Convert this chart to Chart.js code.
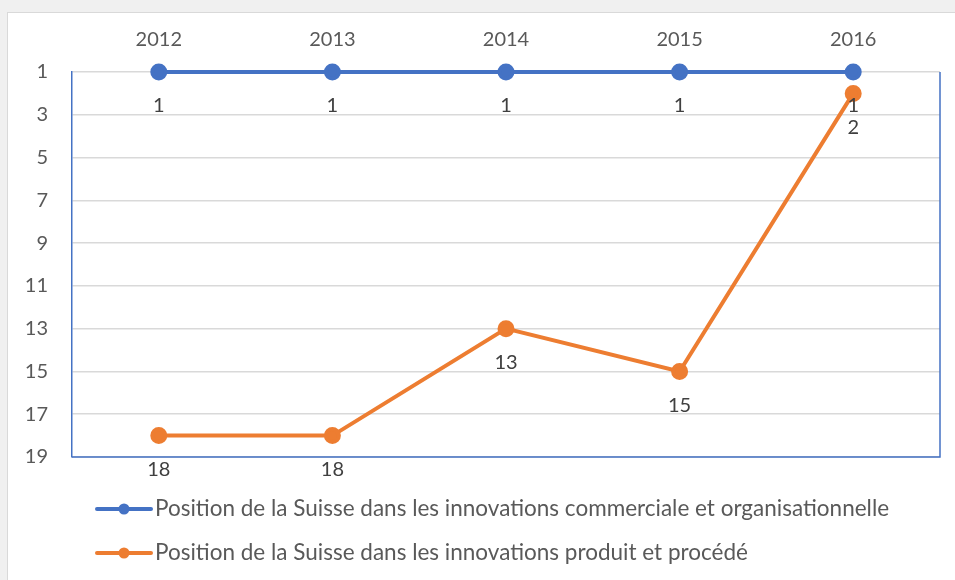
<!DOCTYPE html>
<html>
<head>
<meta charset="utf-8">
<script src="https://cdn.jsdelivr.net/npm/chart.js@4.4.0/dist/chart.umd.min.js"></script>
<style>
  html, body { margin: 0; padding: 0; background: #f0f0f0; overflow: hidden; }
  #card { position: absolute; left: 7px; top: 12px; width: 960px; height: 580px; background: #fff; border: 1px solid #d9d9d9; }
  #chart { position: absolute; left: 0; top: 0; }
</style>
</head>
<body>
<div id="card"></div>
<canvas id="chart" width="955" height="580"></canvas>
<script>
// Data
const years = ['2012', '2013', '2014', '2015', '2016'];
const commerciale = [1, 1, 1, 1, 1];
const produit = [18, 18, 13, 15, 2];
const seriesNames = [
    'Position de la Suisse dans les innovations commerciale et organisationnelle',
    'Position de la Suisse dans les innovations produit et procédé'
];

const FONT = 'Lato, "Open Sans", sans-serif';
const BLUE = '#4472c4';
const ORANGE = '#ed7d31';

// value labels under each point
const valueLabels = {
    id: 'valueLabels',
    afterDatasetsDraw(chart) {
        const ctx = chart.ctx;
        ctx.save();
        ctx.font = '20px ' + FONT;
        ctx.fillStyle = '#404040';
        ctx.textAlign = 'center';
        ctx.textBaseline = 'middle';
        chart.data.datasets.forEach((ds, i) => {
            chart.getDatasetMeta(i).data.forEach((pt, j) => {
                ctx.fillText(ds.data[j], pt.x, pt.y + 34);
            });
        });
        ctx.restore();
    }
};

// blue frame on bottom and right + custom legend
const frameAndLegend = {
    id: 'frameAndLegend',
    beforeDatasetsDraw(chart) {
        const { ctx, chartArea: a } = chart;
        ctx.save();
        ctx.strokeStyle = BLUE;
        ctx.lineWidth = 1.5;
        ctx.beginPath();
        ctx.moveTo(a.left, a.bottom);
        ctx.lineTo(a.right, a.bottom);
        ctx.lineTo(a.right, a.top);
        ctx.stroke();
        ctx.restore();
    },
    afterDraw(chart) {
        const ctx = chart.ctx;
        ctx.save();
        chart.data.datasets.forEach((ds, i) => {
            const y = 509 + i * 44;
            ctx.strokeStyle = ds.borderColor;
            ctx.lineWidth = 4;
            ctx.lineCap = 'round';
            ctx.beginPath();
            ctx.moveTo(97, y);
            ctx.lineTo(151, y);
            ctx.stroke();
            ctx.fillStyle = ds.borderColor;
            ctx.beginPath();
            ctx.arc(124, y, 5.5, 0, Math.PI * 2);
            ctx.fill();
            ctx.font = '22.5px ' + FONT;
            ctx.fillStyle = '#595959';
            ctx.textAlign = 'left';
            ctx.textBaseline = 'middle';
            ctx.fillText(seriesNames[i], 155, y);
        });
        ctx.restore();
    }
};

const ctx = document.getElementById('chart').getContext('2d');
const chart = new Chart(ctx, {
    type: 'line',
    data: {
        labels: years,
        datasets: [{
            label: seriesNames[0],
            data: commerciale,
            borderColor: BLUE,
            backgroundColor: BLUE,
            borderWidth: 4,
            pointRadius: 6.5,
            pointHoverRadius: 6.5,
            tension: 0,
            clip: false
        }, {
            label: seriesNames[1],
            data: produit,
            borderColor: ORANGE,
            backgroundColor: ORANGE,
            borderWidth: 4,
            pointRadius: 6.5,
            pointHoverRadius: 6.5,
            tension: 0,
            clip: false
        }]
    },
    options: {
        responsive: false,
        animation: false,
        layout: { padding: { left: 0, top: 0, right: 15, bottom: 123 } },
        plugins: {
            legend: { display: false },
            tooltip: { enabled: false }
        },
        scales: {
            x: {
                position: 'top',
                offset: true,
                grid: { display: false, drawTicks: false },
                border: { display: false },
                ticks: { color: '#595959', font: { family: FONT, size: 20 }, padding: 20, maxRotation: 0 },
                afterFit(scale) { scale.height = 72; }
            },
            y: {
                reverse: true,
                min: 1,
                max: 19,
                grid: { color: '#d9d9d9', lineWidth: 1.5, drawTicks: false },
                border: { display: true, color: BLUE, width: 1.5 },
                ticks: { stepSize: 2, color: '#595959', font: { family: FONT, size: 20 }, padding: 24 },
                afterFit(scale) { scale.width = 72; }
            }
        }
    },
    plugins: [frameAndLegend, valueLabels]
});
</script>
</body>
</html>
